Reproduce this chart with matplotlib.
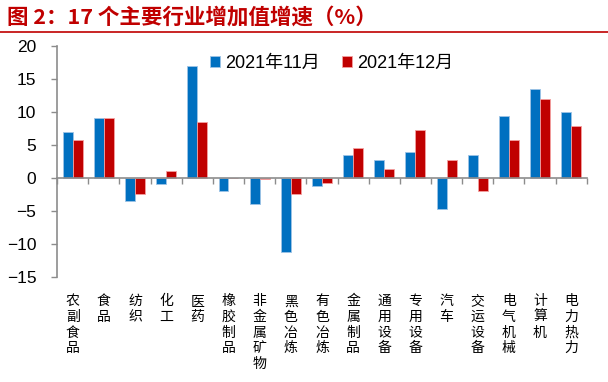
import matplotlib
matplotlib.use("Agg")
import numpy as np
from matplotlib import pyplot as plt
from matplotlib.lines import Line2D

plt.rcParams['font.family'] = ['Liberation Sans', 'Noto Sans CJK SC', 'DejaVu Sans']

# industries and growth rates (%)
industries = ['农副食品', '食品', '纺织', '化工', '医药', '橡胶制品', '非金属矿物',
              '黑色冶炼', '有色冶炼', '金属制品', '通用设备', '专用设备', '汽车',
              '交运设备', '电气机械', '计算机', '电力热力']
nov_2021 = [7.0, 9.0, -3.5, -0.9, 17.0, -2.0, -4.0, -11.2, -1.3, 3.4, 2.7, 3.9,
            -4.7, 3.5, 9.3, 13.4, 10.0]
dec_2021 = [5.7, 9.1, -2.4, 1.1, 8.5, 0.0, -0.2, -2.5, -0.8, 4.5, 1.4, 7.3,
            2.7, -2.0, 5.8, 12.0, 7.8]
series_names = ['2021年11月', '2021年12月']

blue = '#0070C0'
red = '#C00000'
gray = '#8C8C8C'

fig = plt.figure(figsize=(6.08, 3.82), dpi=100)
ax = fig.add_axes([0.094, 0.275, 0.871, 0.605])

x = np.arange(len(industries))
w = 0.32
ax.bar(x - w / 2, nov_2021, w, color=blue, edgecolor='#9DC3E6', linewidth=0.6,
       label=series_names[0], zorder=2)
ax.bar(x + w / 2, dec_2021, w, color=red, edgecolor='#F4A0A0', linewidth=0.6,
       label=series_names[1], zorder=2)

ax.set_xlim(-0.5, len(industries) - 0.5)
ax.set_ylim(-15, 20)
ax.set_yticks(range(-15, 21, 5))
ax.tick_params(axis='y', direction='out', length=4, width=1, color=gray,
               labelsize=12.5, pad=11)

# category axis sits on zero, labels at the bottom
for s in ['top', 'right']:
    ax.spines[s].set_visible(False)
ax.spines['bottom'].set_position(('data', 0))
ax.spines['bottom'].set_color(gray)
ax.spines['bottom'].set_linewidth(1.2)
ax.spines['left'].set_color(gray)
ax.spines['left'].set_linewidth(1.2)
ax.set_xticks(np.arange(-0.5, len(industries), 1.0))
ax.set_xticklabels([])
ax.tick_params(axis='x', direction='out', length=4, width=1, color=gray)

for i, name in enumerate(industries):
    ax.text(i, -0.075, '\n'.join(name), transform=ax.get_xaxis_transform(),
            ha='center', va='top', fontsize=10, linespacing=1.15,
            family=['Noto Sans CJK SC'])

ax.legend(loc='center left', bbox_to_anchor=(0.289, 0.925), ncol=2, frameon=False,
          fontsize=13, handlelength=0.55, handleheight=0.55, handletextpad=0.3,
          columnspacing=1.2, borderpad=0, borderaxespad=0)

fig.text(0.012, 0.955, '图 2：17 个主要行业增加值增速（%）', color=red,
         fontsize=15.5, fontweight='bold', ha='left', va='center',
         family=['Noto Sans CJK SC', 'DejaVu Sans'])
fig.add_artist(Line2D([0, 1], [0.915, 0.915], color=red, linewidth=1.2))

fig.savefig('out.png', dpi=100)
